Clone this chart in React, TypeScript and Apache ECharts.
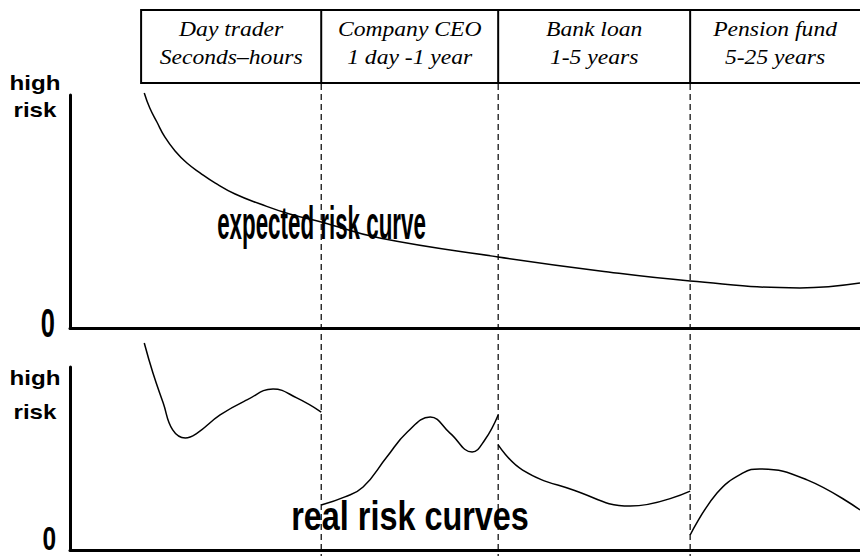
import React, { useEffect, useRef } from "react";
import * as echarts from "echarts";

// Horizon scale (arbitrary units 0..100 along the time axis)
const boundaries = [9, 31.8, 54.2, 78.5, 100];
const boxTitles = ["Day trader", "Company CEO", "Bank loan", "Pension fund"];
const boxRanges = ["Seconds–hours", "1 day -1 year", "1-5 years", "5-25 years"];

// Expected risk curve (risk 0..100, may exceed 100 slightly at the start)
const expectedX = [9.4, 10.1, 11.0, 12.0, 13.3, 14.8, 16.5, 18.4, 20.9, 24.1, 27.8, 31.8, 39.2, 54.2, 67.1, 78.5, 92.4, 100];
const expectedY = [100.9, 94.4, 88.4, 82.0, 76.0, 70.8, 66.5, 62.2, 57.5, 53.2, 48.9, 45.5, 38.6, 30.5, 24.5, 20.2, 17.2, 19.3];

// Real risk curves, one per horizon segment
const realSeg1X = [9.4, 10.5, 11.8, 13.0, 14.6, 16.1, 19.0, 22.4, 25.7, 28.7, 31.8];
const realSeg1Y = [113.1, 96.7, 80.3, 65.6, 61.2, 63.9, 73.8, 82.0, 88.0, 83.1, 75.4];
const realSeg2X = [31.8, 34.8, 37.1, 40.1, 42.7, 45.6, 48.1, 50.9, 52.5, 54.2];
const realSeg2Y = [24.6, 29.0, 34.4, 50.8, 64.5, 72.7, 63.9, 53.6, 60.1, 73.8];
const realSeg3X = [54.2, 57.3, 63.7, 70.9, 78.5];
const realSeg3Y = [57.4, 43.7, 32.8, 24.0, 32.2];
const realSeg4X = [78.5, 81.9, 85.2, 87.3, 93.3, 100];
const realSeg4Y = [8.2, 31.1, 42.1, 44.3, 38.3, 21.9];

const yLabelHigh = "high";
const yLabelRisk = "risk";
const yLabelZero = "0";
const expectedLabel = "expected risk curve";
const realLabel = "real risk curves";

const zip = (xs: number[], ys: number[]) => xs.map((x, i) => [x, ys[i]]);

export default function App() {
  const ref = useRef<HTMLDivElement>(null);

  useEffect(() => {
    if (!ref.current) return;
    const chart = echarts.init(ref.current, undefined, { renderer: "svg" });

    const axisLine = { show: true, lineStyle: { color: "#000", width: 3 } };
    const xAxisBase = {
      type: "value" as const,
      min: 0,
      max: 100,
      axisLine: { ...axisLine, onZero: false },
      axisTick: { show: false },
      axisLabel: { show: false },
      splitLine: { show: false },
    };
    const yAxisBase = {
      type: "value" as const,
      min: 0,
      max: 100,
      axisLine,
      axisTick: { show: false },
      axisLabel: { show: false },
      splitLine: { show: false },
    };
    const lineSeries = (data: number[][], xi: number) => ({
      type: "line" as const,
      xAxisIndex: xi,
      yAxisIndex: xi,
      data,
      smooth: 0.45,
      symbol: "none",
      clip: false,
      lineStyle: { color: "#000", width: 1.5 },
      silent: true,
    });

    chart.setOption({
      animation: false,
      backgroundColor: "#fff",
      grid: [
        { left: 70, right: 0, top: 95, height: 233 },
        { left: 70, right: 0, top: 367, height: 183 },
      ],
      xAxis: [
        { ...xAxisBase, gridIndex: 0 },
        { ...xAxisBase, gridIndex: 1 },
      ],
      yAxis: [
        { ...yAxisBase, gridIndex: 0 },
        { ...yAxisBase, gridIndex: 1 },
      ],
      series: [
        lineSeries(zip(expectedX, expectedY), 0),
        lineSeries(zip(realSeg1X, realSeg1Y), 1),
        lineSeries(zip(realSeg2X, realSeg2Y), 1),
        lineSeries(zip(realSeg3X, realSeg3Y), 1),
        lineSeries(zip(realSeg4X, realSeg4Y), 1),
      ],
    });

    const px = (v: number) => chart.convertToPixel({ xAxisIndex: 0 }, v) as number;
    const bx = boundaries.map(px);
    const boxTop = 10;
    const boxBottom = 83;
    const graphics: any[] = [];

    // Box outline
    graphics.push({
      type: "line",
      shape: { x1: bx[0], y1: boxTop, x2: bx[4] + 2, y2: boxTop },
      style: { stroke: "#000", lineWidth: 2 },
      silent: true,
    });
    graphics.push({
      type: "line",
      shape: { x1: bx[0], y1: boxBottom, x2: bx[4] + 2, y2: boxBottom },
      style: { stroke: "#000", lineWidth: 2 },
      silent: true,
    });
    for (let i = 0; i < 4; i++) {
      graphics.push({
        type: "line",
        shape: { x1: bx[i], y1: boxTop - 1, x2: bx[i], y2: boxBottom + 1 },
        style: { stroke: "#000", lineWidth: 2 },
        silent: true,
      });
    }
    // Dashed dividers
    for (let i = 1; i < 4; i++) {
      graphics.push({
        type: "line",
        shape: { x1: bx[i], y1: boxBottom + 1, x2: bx[i], y2: 556 },
        style: { stroke: "#000", lineWidth: 1.2, lineDash: [6, 4] },
        silent: true,
      });
    }
    // Box texts
    const serif = "'Liberation Serif', 'Times New Roman', serif";
    for (let i = 0; i < 4; i++) {
      const cx = (bx[i] + bx[i + 1]) / 2;
      [boxTitles[i], boxRanges[i]].forEach((t, j) => {
        graphics.push({
          type: "text",
          x: cx,
          y: j === 0 ? 30 : 58,
          scaleX: 1.18,
          silent: true,
          style: {
            text: t,
            fontFamily: serif,
            fontStyle: "italic",
            fontSize: 20,
            fill: "#000",
            align: "center",
            verticalAlign: "middle",
            textAlign: "center",
            textVerticalAlign: "middle",
          },
        });
      });
    }

    const sans = "'Liberation Sans', Arial, Helvetica, sans-serif";
    const label = (text: string, x: number, y: number, size: number, sx: number, align = "center") => ({
      type: "text",
      x,
      y,
      scaleX: sx,
      silent: true,
      style: {
        text,
        fontFamily: sans,
        fontWeight: "bold",
        fontSize: size,
        fill: "#000",
        align,
        verticalAlign: "middle",
        textAlign: align,
        textVerticalAlign: "middle",
      },
    });
    graphics.push(label(yLabelHigh, 35, 83, 19.5, 1.24));
    graphics.push(label(yLabelRisk, 35, 110, 19.5, 1.24));
    graphics.push(label(yLabelZero, 55, 323, 41, 0.62, "right"));
    graphics.push(label(yLabelHigh, 35, 378, 19.5, 1.24));
    graphics.push(label(yLabelRisk, 35, 412, 19.5, 1.24));
    graphics.push(label(yLabelZero, 56, 538, 34, 0.72, "right"));
    graphics.push(label(expectedLabel, 321.5, 223, 46, 0.486));
    graphics.push(label(realLabel, 410, 516, 41, 0.79));

    chart.setOption({ graphic: graphics });

    return () => chart.dispose();
  }, []);

  return <div ref={ref} style={{ width: 860, height: 556, position: "absolute", left: 0, top: 0 }} />;
}
